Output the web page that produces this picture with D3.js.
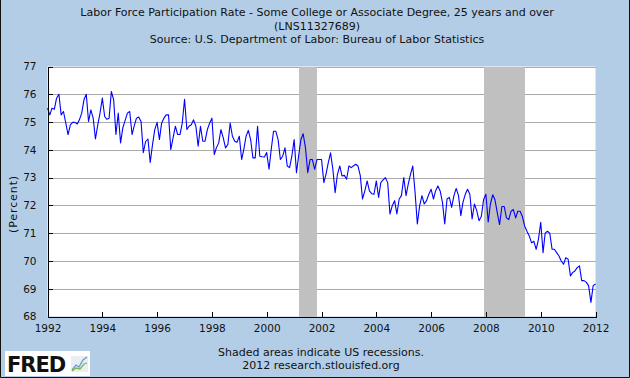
<!DOCTYPE html>
<html>
<head>
<meta charset="utf-8">
<script src="https://cdn.jsdelivr.net/npm/d3@7"></script>
<style>
  html, body { margin: 0; padding: 0; background: #b4cde6; }
  svg { display: block; }
  text { font-family: "DejaVu Sans", Verdana, sans-serif; }
</style>
</head>
<body>
<svg id="chart" width="630" height="378"></svg>
<script>
// ---------- DATA ----------
const titleLines = [
  "Labor Force Participation Rate - Some College or Associate Degree, 25 years and over",
  "(LNS11327689)",
  "Source: U.S. Department of Labor: Bureau of Labor Statistics"
];
const footerLines = ["Shaded areas indicate US recessions.", "2012 research.stlouisfed.org"];
const yAxisLabel = "(Percent)";
const seriesStart = "1992-01-01"; // monthly observations from this month on
const rateValues = [
  75.50, 75.26, 75.50, 75.46, 75.86, 76.00, 75.26, 75.38, 74.96, 74.55, 74.90, 74.99,
  74.99, 74.93, 75.08, 75.32, 75.80, 76.00, 75.02, 75.44, 75.14, 74.39, 74.90, 75.32,
  75.86, 75.20, 75.10, 75.14, 76.10, 75.80, 74.55, 75.32, 74.25, 74.79, 75.06, 75.32,
  75.38, 74.55, 74.85, 75.14, 75.18, 75.02, 73.90, 74.30, 74.39, 73.55, 74.19, 74.73,
  74.99, 74.37, 74.96, 75.14, 75.26, 75.26, 74.01, 74.43, 74.85, 74.55, 74.55, 74.96,
  75.82, 74.73, 74.85, 74.90, 75.08, 74.85, 74.13, 74.85, 74.31, 74.31, 74.73, 74.96,
  75.14, 73.83, 74.07, 74.25, 74.73, 74.43, 74.07, 74.19, 74.96, 74.49, 74.31, 74.27,
  74.49, 73.65, 74.01, 74.49, 74.70, 74.37, 73.71, 73.71, 74.85, 73.77, 73.75, 73.74,
  73.90, 73.30, 74.01, 74.67, 74.67, 74.37, 73.65, 73.77, 74.07, 73.42, 73.36, 73.77,
  74.37, 73.18, 73.77, 74.37, 74.58, 74.07, 73.18, 73.65, 73.65, 73.30, 73.65, 73.65,
  73.65, 72.82, 73.12, 73.54, 73.89, 73.30, 72.46, 73.12, 73.42, 73.06, 73.08, 72.94,
  73.42, 73.36, 73.42, 73.48, 73.42, 73.08, 72.23, 72.52, 72.88, 72.52, 72.42, 72.40,
  72.88, 72.29, 72.82, 72.92, 73.00, 72.82, 71.69, 71.99, 72.17, 71.69, 72.23, 72.35,
  73.00, 72.35, 72.76, 73.12, 73.42, 72.46, 71.33, 71.99, 72.35, 72.05, 72.17, 72.40,
  72.58, 72.23, 72.52, 72.70, 72.52, 72.11, 71.33, 72.23, 72.29, 71.93, 72.35, 72.61,
  72.35, 71.63, 72.11, 72.40, 72.58, 72.40, 71.51, 72.05, 71.81, 71.45, 71.60, 72.20,
  72.40, 71.40, 72.05, 72.38, 72.20, 71.73, 71.31, 71.96, 71.96, 71.55, 71.49, 71.79,
  71.85, 71.55, 71.79, 71.79, 71.60, 71.25, 71.07, 70.90, 70.65, 70.71, 70.42, 70.77,
  71.39, 70.30, 71.00, 71.07, 71.00, 70.42, 70.42, 70.30, 70.18, 70.00, 69.88, 70.12,
  70.06, 69.46, 69.58, 69.64, 69.76, 69.82, 69.29, 69.29, 69.23, 69.11, 68.51, 69.11,
  69.17
];
const recessionStarts = ["2001-03-01", "2007-12-01"];
const recessionEnds   = ["2001-11-01", "2009-06-01"];
const yTickValues = [68, 69, 70, 71, 72, 73, 74, 75, 76, 77];
const xTickYears = [1992, 1994, 1996, 1998, 2000, 2002, 2004, 2006, 2008, 2010, 2012];
const xDomain = ["1992-01-01", "2012-01-01"];

// ---------- LAYOUT ----------
const W = 630, H = 378;
const plot = { left: 47.5, right: 595.5, top: 66.5, bottom: 316.5 };
const parse = d3.timeParse("%Y-%m-%d");

const svg = d3.select("#chart");
svg.append("rect").attr("width", W).attr("height", H).attr("fill", "#b4cde6");

const x = d3.scaleTime().domain(xDomain.map(parse)).range([plot.left, plot.right]);
const y = d3.scaleLinear().domain([68, 77]).range([plot.bottom, plot.top]);

const start = parse(seriesStart);
const series = rateValues.map((v, i) => ({ date: d3.timeMonth.offset(start, i), value: v }));

// plot background
svg.append("rect")
  .attr("x", plot.left).attr("y", plot.top)
  .attr("width", plot.right - plot.left).attr("height", plot.bottom - plot.top)
  .attr("fill", "#ffffff");

// gridlines
svg.append("g").selectAll("line").data(yTickValues).join("line")
  .attr("x1", plot.left).attr("x2", plot.right)
  .attr("y1", d => Math.round(y(d)) + 0.5).attr("y2", d => Math.round(y(d)) + 0.5)
  .attr("stroke", "#aaaaaa").attr("stroke-width", 1).attr("shape-rendering", "crispEdges");

// recession bars
svg.append("g").selectAll("rect").data(recessionStarts.map((s, i) => [parse(s), parse(recessionEnds[i])])).join("rect")
  .attr("x", d => x(d[0])).attr("width", d => x(d[1]) - x(d[0]))
  .attr("y", plot.top).attr("height", plot.bottom - plot.top)
  .attr("fill", "#c0c0c0").attr("shape-rendering", "crispEdges");

// series line
const line = d3.line().x(d => x(d.date)).y(d => y(d.value));
svg.append("path").datum(series)
  .attr("d", line).attr("fill", "none")
  .attr("stroke", "#0000ff").attr("stroke-width", 1.1)
  .attr("stroke-linejoin", "round");

// axes
const yAxis = d3.axisLeft(y).tickValues(yTickValues).tickSize(-5).tickPadding(11).tickFormat(d3.format("d"));
const gy = svg.append("g").attr("transform", `translate(${plot.left},0)`).call(yAxis);
gy.select(".domain").attr("stroke", "#000").attr("shape-rendering", "crispEdges");
gy.selectAll(".tick line").attr("stroke", "#000").attr("shape-rendering", "crispEdges");
gy.selectAll(".tick text").attr("font-size", "10.5px").attr("fill", "#111")
  .attr("font-family", "'DejaVu Sans', Verdana, sans-serif");

const xAxis = d3.axisBottom(x).tickValues(xTickYears.map(yy => new Date(yy, 0, 1)))
  .tickSize(-5).tickPadding(8).tickFormat(d3.timeFormat("%Y"));
const gx = svg.append("g").attr("transform", `translate(0,${plot.bottom})`).call(xAxis);
gx.select(".domain").attr("stroke", "#000").attr("shape-rendering", "crispEdges");
gx.selectAll(".tick line").attr("stroke", "#000").attr("shape-rendering", "crispEdges");
gx.selectAll(".tick text").attr("font-size", "10.5px").attr("fill", "#111")
  .attr("font-family", "'DejaVu Sans', Verdana, sans-serif");

// y label
svg.append("text")
  .attr("transform", "translate(16.5,204) rotate(-90)")
  .attr("text-anchor", "middle").attr("font-size", "11px").attr("letter-spacing", "0.9")
  .attr("fill", "#111")
  .text(yAxisLabel);

// title
svg.append("g").selectAll("text").data(titleLines).join("text")
  .attr("x", 317).attr("y", (d, i) => 16 + i * 13.7)
  .attr("text-anchor", "middle").attr("font-size", "11px").attr("fill", "#111")
  .text(d => d);

// footer
svg.append("g").selectAll("text").data(footerLines).join("text")
  .attr("x", 321).attr("y", (d, i) => 356 + i * 13)
  .attr("text-anchor", "middle").attr("font-size", "11px").attr("fill", "#111")
  .text(d => d);

// FRED logo
const logo = svg.append("g");
logo.append("rect").attr("x", 5).attr("y", 351).attr("width", 85).attr("height", 25).attr("fill", "#ffffff");
logo.append("text").attr("x", 7).attr("y", 372).attr("font-size", "21px").attr("font-weight", "bold")
  .attr("font-family", "'Liberation Sans', Arial, sans-serif").attr("letter-spacing", "-1")
  .attr("fill", "#111").text("FRED");
logo.append("rect").attr("x", 71).attr("y", 356).attr("width", 17).attr("height", 16).attr("fill", "#e8eef4");
logo.append("polyline").attr("points", "72,370 76,365 79,367 83,360 87,357")
  .attr("fill", "none").attr("stroke", "#6a9bd1").attr("stroke-width", 1.3);
logo.append("polyline").attr("points", "72,371 76,368 80,369 84,364 87,363")
  .attr("fill", "none").attr("stroke", "#7cba4f").attr("stroke-width", 1.3);

// outer border
svg.append("path").attr("d", `M0.5,0 V${H - 0.5} H${W - 0.5} V0`)
  .attr("fill", "none").attr("stroke", "#111").attr("stroke-width", 1);
</script>
</body>
</html>
